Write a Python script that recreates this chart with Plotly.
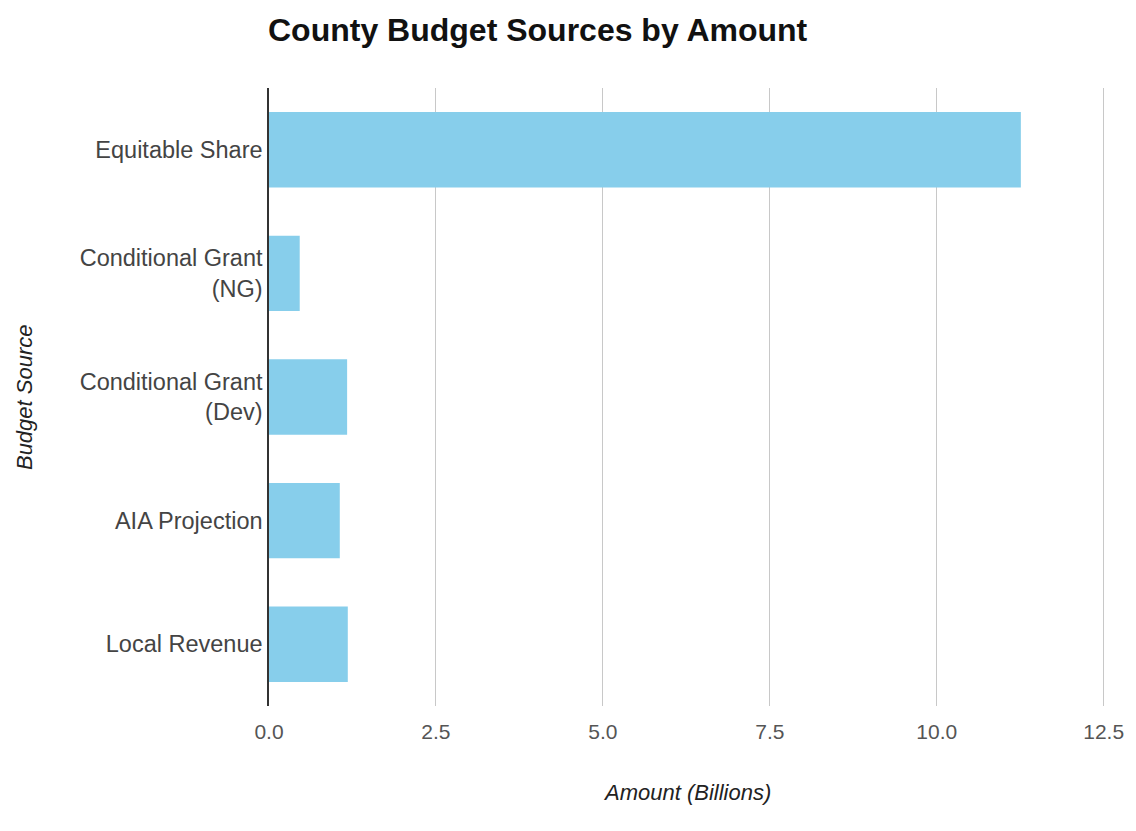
import plotly.graph_objects as go

categories = ["Equitable Share", "Conditional Grant<br>(NG)", "Conditional Grant<br>(Dev)",
              "AIA Projection", "Local Revenue"]
amounts = [11.26, 0.46, 1.17, 1.06, 1.18]
tick_vals = [0, 2.5, 5, 7.5, 10, 12.5]
tick_text = ["0.0", "2.5", "5.0", "7.5", "10.0", "12.5"]

W, H = 1136, 831
L, R, T, B = 269, 22, 88, 125
pw = W - L - R
ph = H - T - B
FONT = "Liberation Sans, Arial, sans-serif"

fig = go.Figure(go.Bar(
    y=categories, x=amounts, orientation="h",
    marker=dict(color="#87CEEB", line=dict(width=0)),
    width=0.61,
))

fig.update_layout(
    width=W, height=H,
    margin=dict(l=L, r=R, t=T, b=B, pad=0),
    paper_bgcolor="white", plot_bgcolor="white",
    showlegend=False,
    font=dict(family=FONT, color="#444"),
    title=dict(text="<b>County Budget Sources by Amount</b>",
               font=dict(family=FONT, size=32, color="#111"),
               x=268 / W, xref="container", xanchor="left",
               y=1 - 30 / H, yref="container", yanchor="middle"),
    xaxis=dict(range=[0, 12.55], tickvals=tick_vals, ticktext=tick_text,
               showgrid=True, gridcolor="#c8c8c8", gridwidth=1,
               zeroline=False, showline=False, ticks="",
               tickfont=dict(size=21, color="#555"), ticklabelstandoff=11),
    yaxis=dict(categoryorder="array", categoryarray=categories, autorange="reversed",
               showgrid=False, zeroline=False, showline=True, linecolor="#333", linewidth=1.5,
               ticks="", tickfont=dict(size=23.5, color="#444"), ticklabelstandoff=0),
    annotations=[
        dict(text="<i>Budget Source</i>", xref="paper", yref="paper",
             x=(22 - L) / pw, y=0.5, xanchor="center", yanchor="middle",
             textangle=-90, showarrow=False, font=dict(family=FONT, size=22, color="#222")),
        dict(text="<i>Amount (Billions)</i>", xref="paper", yref="paper",
             x=(690 - L) / pw, y=(T + ph - 792) / ph, xanchor="center", yanchor="middle",
             showarrow=False, font=dict(family=FONT, size=22, color="#222")),
    ],
)

fig.write_html("out.html")
